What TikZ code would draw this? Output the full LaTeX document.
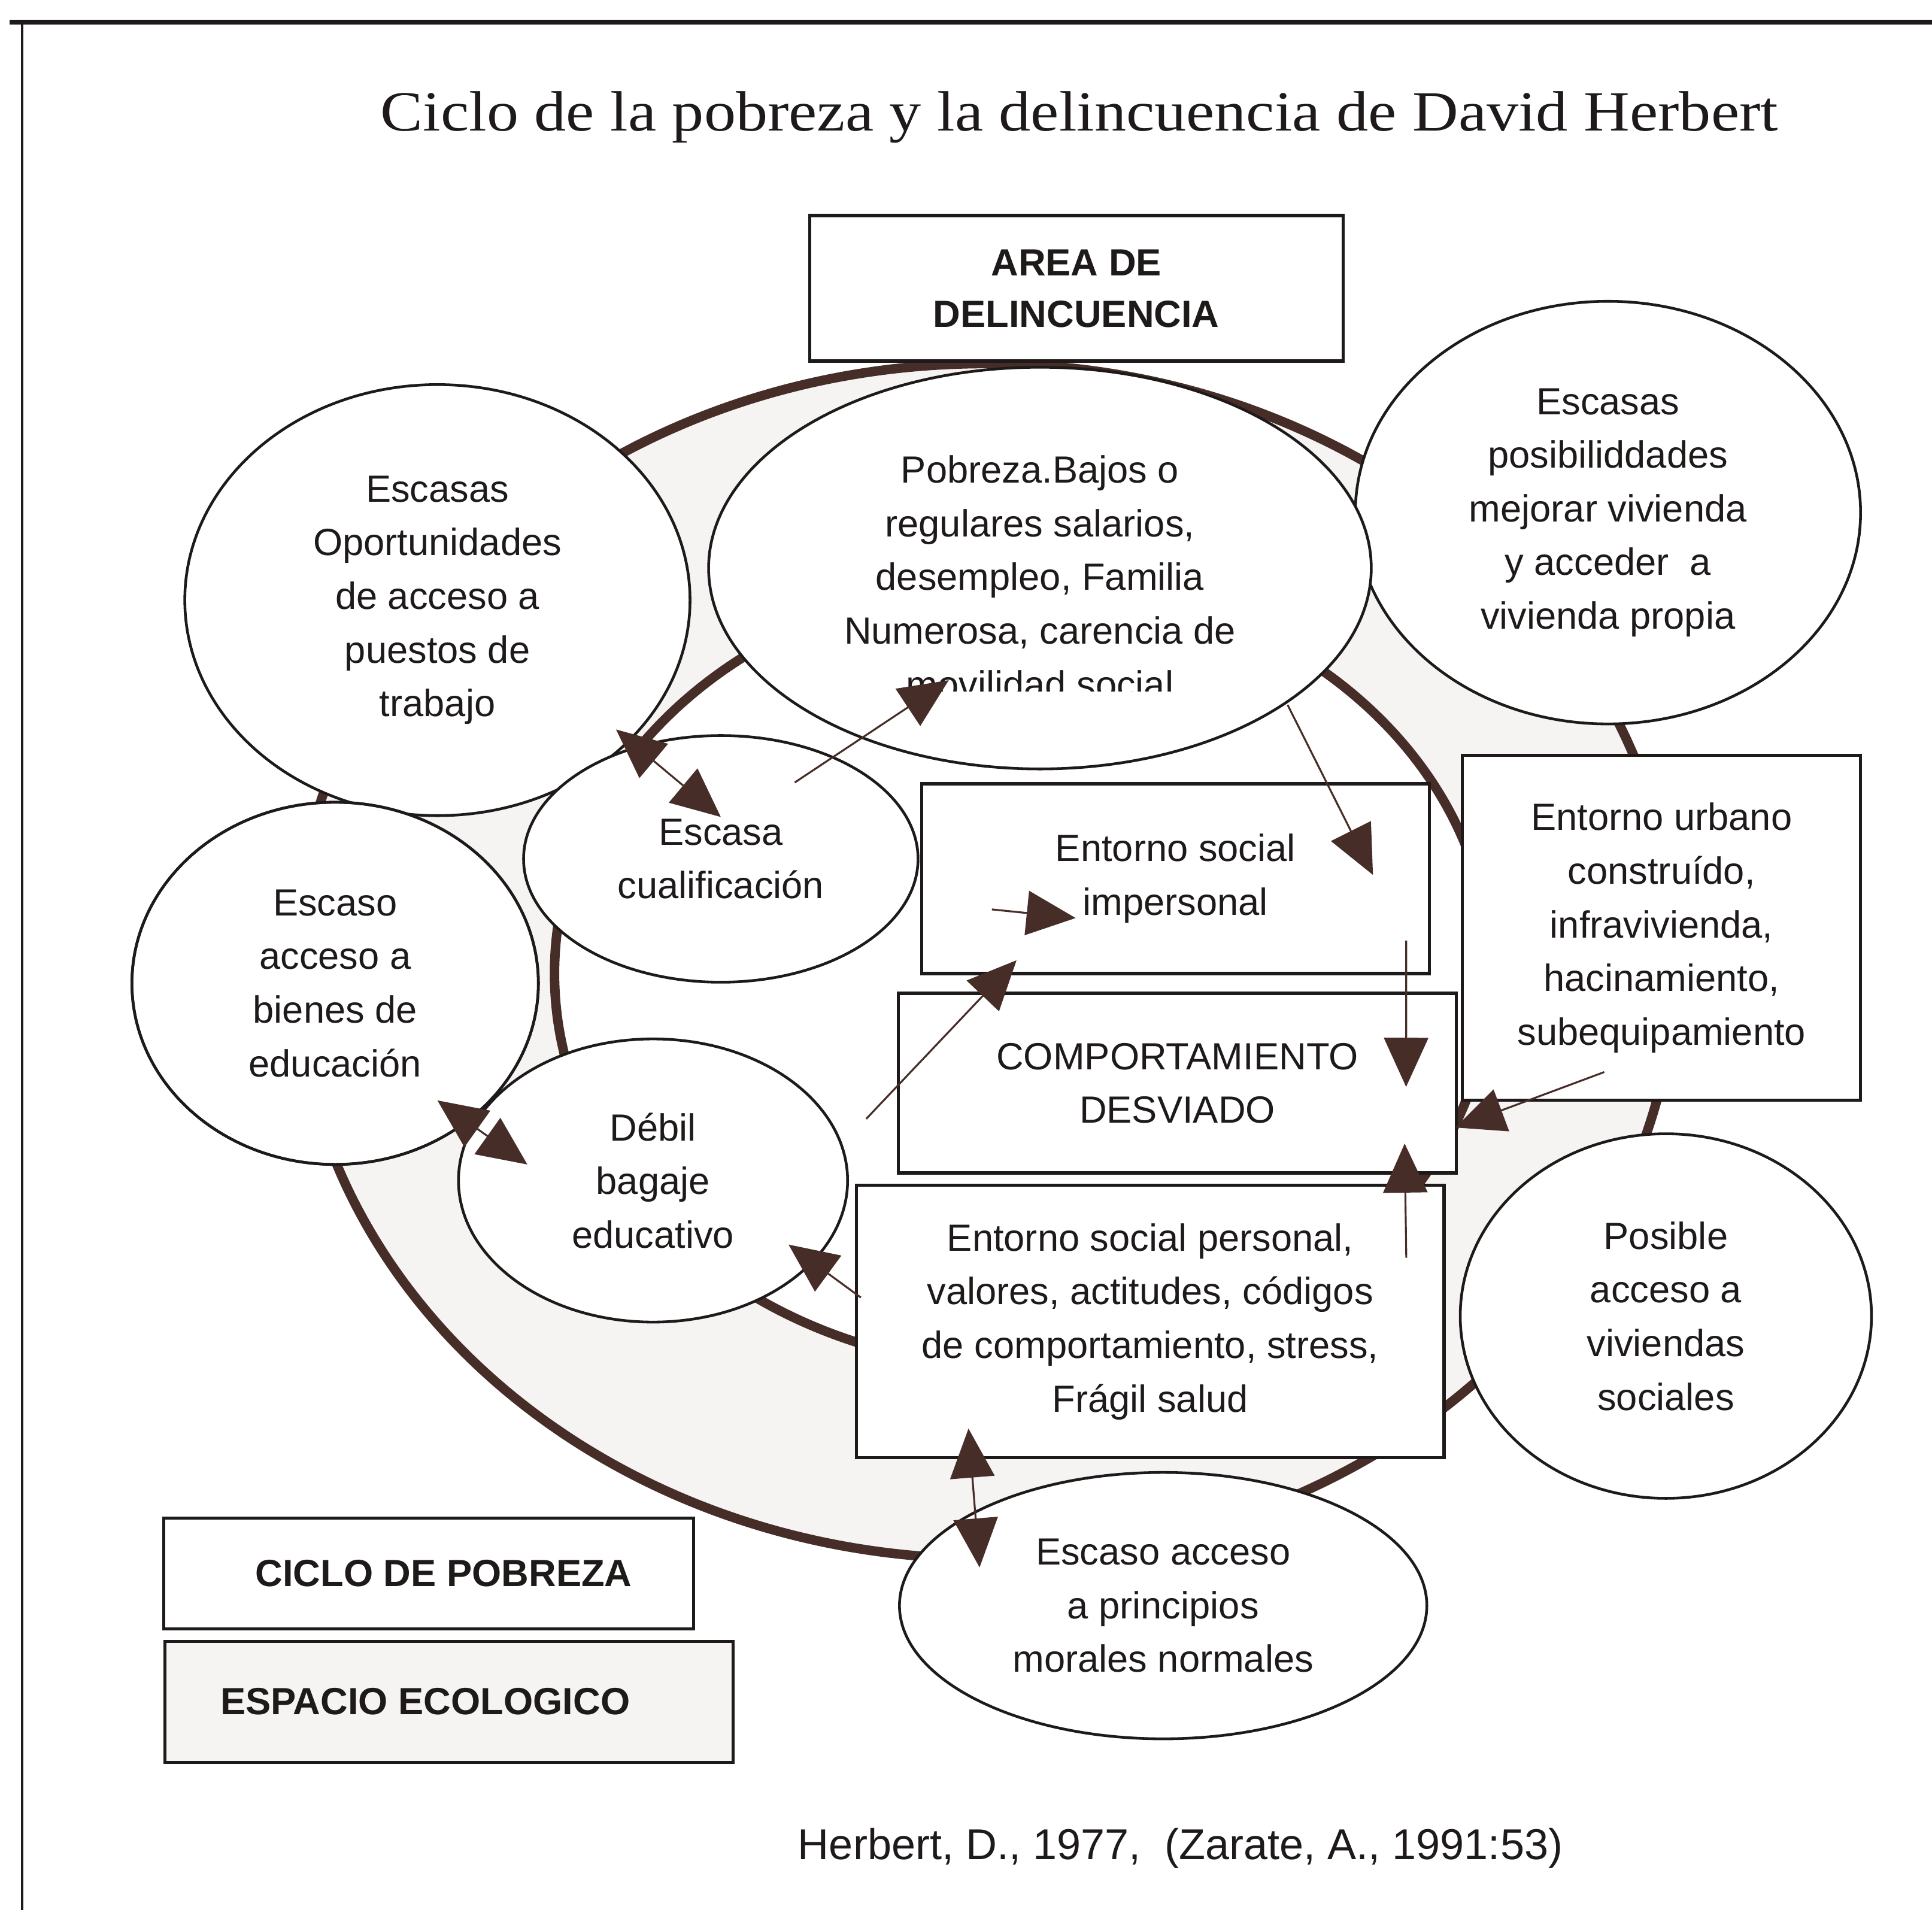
\documentclass[tikz,border=0pt]{standalone}
\usepackage{fontspec}
\setmainfont{Liberation Sans}
\newfontfamily\titulofont{Liberation Serif}[FakeStretch=1.12]
\usetikzlibrary{shapes.geometric, arrows.meta, calc}
\definecolor{tinta}{RGB}{30,26,26}
\definecolor{cafe}{RGB}{70,45,40}
\definecolor{grisfondo}{RGB}{245,244,243}

\begin{document}
\begin{tikzpicture}[x=0.020581cm, y=-0.020581cm,
  texto/.style={font=\fontsize{18pt}{25.5pt}\selectfont, text=tinta, align=center},
  burbuja/.style={ellipse, draw=tinta, line width=1.3pt, fill=white, inner sep=0pt, texto},
  caja/.style={rectangle, draw=tinta, line width=1.5pt, fill=white, inner sep=0pt, texto},
  leyenda/.style={caja, font=\fontsize{18pt}{24.5pt}\selectfont\bfseries},
  anillo/.style={draw=cafe, line width=4.5pt},
  flecha/.style={draw=cafe, line width=0.9pt, -{Triangle[length=0.82cm,width=0.74cm]}},
  dobleflecha/.style={draw=cafe, line width=0.9pt, {Triangle[length=0.82cm,width=0.74cm]}-{Triangle[length=0.82cm,width=0.74cm]}}
]
\useasboundingbox (0,0) rectangle (1568,1550);

% marco
\draw[tinta, line width=2.5pt] (8,18) -- (1568,18);
\draw[tinta, line width=0.9pt] (18,18) -- (18,1550);

\node[text=tinta, font=\titulofont\fontsize{27pt}{30pt}\selectfont] (titulo) at (876,95) {Ciclo de la pobreza y la delincuencia de David Herbert};

% espacio ecologico y ciclo
\fill[grisfondo, even odd rule] (800,780) ellipse [x radius=11.525cm, y radius=9.982cm]
  (830,790) ellipse [x radius=7.821cm, y radius=6.586cm];
\draw[anillo] (800,780) ellipse [x radius=11.525cm, y radius=9.982cm];
\draw[anillo] (830,790) ellipse [x radius=7.821cm, y radius=6.586cm];

\node[leyenda, minimum width=8.91cm, minimum height=2.43cm] (area) at (873.5,234) {AREA DE\\DELINCUENCIA};

\node[burbuja, minimum width=8.44cm, minimum height=7.20cm] (oportunidades) at (355,487) {Escasas\\Oportunidades\\de acceso a\\puestos de\\trabajo};
\node[burbuja, minimum width=8.44cm, minimum height=7.06cm] (vivienda) at (1305,416) {Escasas\\posibiliddades\\mejorar vivienda\\y acceder\ \ a\\vivienda propia};
\node[burbuja, minimum width=11.07cm, minimum height=6.71cm] (pobreza) at (844,461) {};
\begin{scope}
  \clip (570,290) rectangle (1120,561);
  \node[texto] (pobrezatexto) at (844,468) {Pobreza.Bajos o\\regulares salarios,\\desempleo, Familia\\Numerosa, carencia de\\movilidad social};
\end{scope}
\node[burbuja, minimum width=6.59cm, minimum height=4.12cm] (cualificacion) at (585,697) {Escasa\\cualificación};
\node[burbuja, minimum width=6.79cm, minimum height=6.05cm] (bienes) at (272,798) {Escaso\\acceso a\\bienes de\\educación};
\node[burbuja, minimum width=6.50cm, minimum height=4.73cm] (debil) at (530,958) {Débil\\bagaje\\educativo};
% contorno de bienes visible sobre debil
\draw[tinta, line width=1.3pt] (bienes) ellipse [x radius=3.395cm, y radius=3.025cm];

\node[caja, minimum width=8.48cm, minimum height=3.17cm] (impersonal) at (954,713) {Entorno social\\impersonal};
\node[caja, minimum width=6.65cm, minimum height=5.76cm] (urbano) at (1348.5,753) {Entorno urbano\\construído,\\infravivienda,\\hacinamiento,\\subequipamiento};
\node[caja, minimum width=9.32cm, minimum height=3.00cm] (desviado) at (955.5,879) {COMPORTAMIENTO\\DESVIADO};
\node[caja, minimum width=9.82cm, minimum height=4.55cm] (personal) at (933.5,1072.5) {Entorno social personal,\\valores, actitudes, códigos\\de comportamiento, stress,\\Frágil salud};

\node[burbuja, minimum width=6.87cm, minimum height=6.09cm] (sociales) at (1352,1068) {Posible\\acceso a\\viviendas\\sociales};
\node[burbuja, minimum width=8.81cm, minimum height=4.45cm] (morales) at (944,1303) {Escaso acceso\\a principios\\morales normales};

% leyenda
\node[leyenda, minimum width=8.85cm, minimum height=1.85cm] (ciclo) at (348,1277) {\hspace*{0.5cm}CICLO DE POBREZA};
\node[leyenda, fill=grisfondo, minimum width=9.49cm, minimum height=2.02cm] (espacio) at (364.5,1381) {ESPACIO ECOLOGICO\hspace*{0.8cm}};

\node[text=tinta, font=\fontsize{20.5pt}{24pt}\selectfont] (fuente) at (958,1500) {Herbert, D., 1977,\ \ (Zarate, A., 1991:53)};

% flechas
\draw[dobleflecha] ($(oportunidades)+(145,105)$) -- ($(cualificacion)+(0,-34)$);
\draw[flecha] ($(cualificacion)+(60,-62)$) -- ($(pobreza)+(-74,91)$);
\draw[flecha] ($(pobreza)+(201,111)$) -- ($(impersonal.east)+(-47,-3)$);
\draw[flecha] ($(impersonal)+(-149,25)$) -- ($(impersonal)+(-81,32)$);
\draw[flecha] ($(debil)+(173,-50)$) -- ($(impersonal.south)+(-129,-12)$);
\draw[flecha] ($(impersonal.south east)+(-20,-28)$) -- ($(desviado.east)+(-42,3)$);
\draw[flecha] ($(urbano)+(-46.5,117)$) -- ($(desviado.east)+(-2,36)$);
\draw[flecha] ($(personal.north east)+(-32,60)$) -- ($(desviado)+(184.5,49)$);
\draw[flecha] ($(personal.west)+(5,-19.5)$) -- ($(debil)+(110,52)$);
\draw[dobleflecha] ($(bienes)+(83,95)$) -- ($(debil)+(-102,-13)$);
\draw[dobleflecha] ($(personal.south)+(-147.5,-25)$) -- ($(morales)+(-149,-31)$);

\end{tikzpicture}
\end{document}
